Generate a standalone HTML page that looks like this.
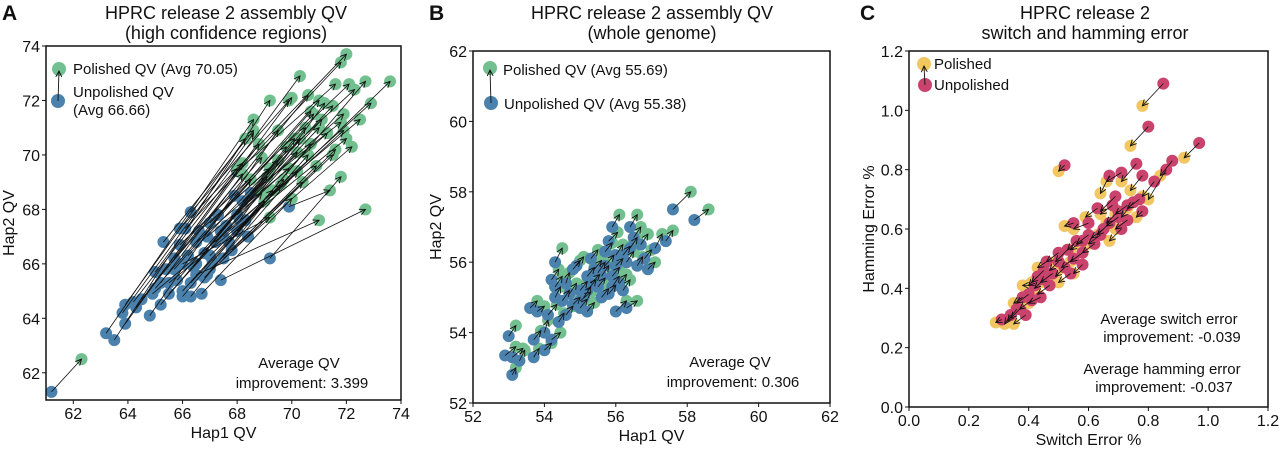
<!DOCTYPE html>
<html><head><meta charset="utf-8">
<style>
body{margin:0;background:#fff;width:1280px;height:445px;overflow:hidden}
svg{font-family:"Liberation Sans","DejaVu Sans",sans-serif}
</style></head>
<body>
<svg id="fig" width="1280" height="445" viewBox="0 0 1280 445">
<defs>
<marker id="ah" markerWidth="8" markerHeight="8" refX="7" refY="4" orient="auto" markerUnits="userSpaceOnUse">
<path d="M1,1 L7,4 L1,7" fill="none" stroke="#111" stroke-width="0.9"/></marker>
</defs>
</svg>
<script>
// Panel A data
const aUnpX=[61.2,63.2,63.5,63.9,63.8,63.9,64.3,64.5,64.8,65.2,65.0,65.3,66.3,66.1,65.9,65.9,67.4,69.2,69.9,68.0,66.8,67.5,66.5,66.0,65.5,64.9,67.0,67.5,68.0,66.5,67.0,65.7,66.4,66.8,67.2,67.6,68.0,66.2,66.9,67.3,68.2,66.6,67.8,65.8,66.3,67.0,68.4,65.5,66.7,67.9,68.5,65.0,65.4,66.0,66.5,67.1,67.4,68.1,66.0,65.2,64.2,65.7,66.9,67.7,68.3,66.3];
const aUnpY=[61.3,63.45,63.2,64.5,64.2,63.8,64.4,64.7,64.1,64.5,65.7,66.8,67.9,67.3,67.3,66.7,65.4,66.2,68.1,69.4,65.5,66.2,65.6,66.0,65.3,64.9,66.3,67.0,67.2,66.8,67.5,65.8,65.9,66.4,66.8,67.4,67.8,66.3,67.0,67.8,68.3,67.2,66.5,65.4,65.3,65.8,67.0,64.9,64.9,68.5,68.6,65.1,65.8,65.0,66.0,66.1,67.2,67.6,64.8,65.3,64.6,66.2,65.6,66.8,67.6,64.8];
const aPolX=[62.3,68.6,69.2,68.3,68.6,68.2,70.0,70.6,69.5,70.3,70.3,68.6,69.9,71.8,72.0,72.1,72.7,71.8,71.4,71.6,71.5,72.2,71.0,69.2,72.0,72.5,73.6,72.9,72.7,71.9,72.3,70.7,69.8,70.5,70.2,71.1,71.3,69.5,69.9,70.8,71.5,69.2,70.9,69.1,69.6,70.4,71.6,68.9,70.0,71.0,71.8,68.5,68.9,69.3,70.1,70.6,71.0,71.2,69.0,68.2,68.0,68.8,70.2,70.7,71.9,69.7];
const aPolY=[62.5,71.3,72.0,70.6,70.8,69.7,72.1,72.2,70.9,70.6,72.9,70.9,72.0,73.4,73.7,72.6,68.0,69.2,68.7,72.6,70.0,70.3,67.6,67.7,70.6,71.3,72.7,71.9,72.7,71.5,72.4,71.6,70.3,71.0,70.1,71.3,70.8,69.8,69.5,71.5,71.8,69.5,69.6,69.2,68.9,69.0,70.2,68.6,68.4,72.0,71.2,69.1,69.9,68.7,70.6,70.0,71.0,71.9,68.3,69.3,69.5,70.4,69.4,70.4,70.9,69.1];
const aTicks=[62,64,66,68,70,72,74];
// Panel B data
const bUnpX=[52.9,53.1,53.0,53.1,53.3,53.7,53.7,54.0,54.0,54.2,53.6,53.8,54.1,54.3,54.4,54.3,54.6,54.6,54.8,55.0,55.2,55.0,55.2,55.4,55.5,55.6,55.8,55.9,56.0,56.1,55.7,55.8,55.9,56.2,56.4,56.5,56.6,56.8,56.9,57.1,57.4,57.6,58.2,54.3,54.8,56.0,56.3,55.3,56.2,54.9,55.1,55.3,55.6,55.7,56.0,54.7,55.0,55.5,56.3,56.7,54.5,55.9,56.4,55.2,54.2];
const bUnpY=[53.35,53.3,53.9,52.8,53.2,53.3,53.8,53.5,54.0,53.8,54.7,54.6,54.5,55.0,54.3,55.3,55.4,54.5,54.8,54.7,54.6,55.2,55.6,55.8,55.3,55.0,55.1,55.6,55.9,55.4,56.3,56.6,57.0,56.2,57.0,56.7,55.9,56.1,55.8,56.4,56.6,57.5,57.2,56.0,55.8,54.6,54.7,56.1,55.2,55.9,55.0,55.4,55.6,55.9,56.2,55.1,54.9,55.7,56.0,56.5,54.9,55.3,56.4,55.2,55.5];
const bPolX=[53.2,53.4,53.2,53.2,53.45,53.85,53.9,54.2,54.1,54.45,53.8,54.0,54.35,54.45,54.55,54.5,54.7,54.8,55.0,55.2,55.4,55.2,55.4,55.6,55.7,55.8,56.0,56.1,56.2,56.3,55.9,56.05,56.1,56.4,56.6,56.7,56.75,57.0,57.1,57.3,57.6,58.1,58.6,54.5,55.0,56.3,56.6,55.5,56.4,55.1,55.3,55.55,55.8,55.95,56.2,54.9,55.3,55.7,56.5,56.9,54.7,56.1,56.6,55.45,54.4];
const bPolY=[53.6,53.55,54.2,53.0,53.5,53.55,54.05,53.7,54.35,54.0,54.9,54.75,54.8,55.3,54.55,55.6,55.7,54.75,55.0,54.95,54.85,55.45,55.85,56.05,55.55,55.25,55.35,55.85,56.1,55.65,56.55,56.85,57.35,56.45,57.35,57.0,56.15,56.35,56.0,56.8,56.9,58.0,57.5,56.4,56.05,54.9,54.9,56.35,55.5,56.15,55.3,55.65,55.9,56.2,56.5,55.4,55.15,56.0,56.3,56.8,55.2,55.6,56.7,55.5,55.8];
const bTicks=[52,54,56,58,60,62];
// Panel C data
const cUnpX=[0.85,0.80,0.97,0.52,0.88,0.76,0.71,0.67,0.86,0.78,0.82,0.63,0.69,0.73,0.75,0.70,0.67,0.71,0.60,0.55,0.56,0.58,0.53,0.50,0.48,0.46,0.45,0.42,0.40,0.38,0.36,0.39,0.34,0.31,0.44,0.52,0.58,0.62,0.64,0.78,0.45,0.50,0.55,0.60,0.65,0.70,0.73,0.47,0.41,0.37,0.58,0.77,0.43,0.68,0.54];
const cUnpY=[1.09,0.945,0.89,0.815,0.83,0.82,0.79,0.78,0.80,0.78,0.76,0.67,0.71,0.68,0.69,0.64,0.62,0.60,0.62,0.62,0.56,0.52,0.53,0.49,0.45,0.49,0.43,0.41,0.38,0.37,0.33,0.31,0.31,0.295,0.37,0.47,0.48,0.55,0.58,0.66,0.46,0.52,0.50,0.58,0.60,0.66,0.63,0.41,0.36,0.33,0.56,0.70,0.44,0.68,0.45];
const cPolX=[0.78,0.74,0.92,0.50,0.84,0.71,0.66,0.64,0.80,0.74,0.78,0.59,0.64,0.69,0.71,0.66,0.63,0.67,0.55,0.52,0.53,0.54,0.49,0.47,0.44,0.43,0.42,0.38,0.36,0.35,0.33,0.35,0.32,0.29,0.40,0.49,0.55,0.58,0.60,0.76,0.41,0.46,0.51,0.56,0.61,0.66,0.69,0.43,0.37,0.34,0.54,0.73,0.40,0.64,0.50];
const cPolY=[1.015,0.88,0.84,0.795,0.78,0.76,0.76,0.72,0.70,0.73,0.71,0.64,0.66,0.65,0.64,0.61,0.58,0.56,0.60,0.61,0.53,0.49,0.49,0.46,0.42,0.47,0.40,0.41,0.35,0.35,0.29,0.28,0.28,0.285,0.35,0.44,0.45,0.52,0.55,0.64,0.42,0.49,0.47,0.55,0.57,0.62,0.60,0.38,0.33,0.30,0.53,0.67,0.41,0.65,0.42];
const cTicks=[0.0,0.2,0.4,0.6,0.8,1.0,1.2];

const NS='http://www.w3.org/2000/svg';
const svg=document.getElementById('fig');
function mk(tag,attrs,parent,text){const e=document.createElementNS(NS,tag);for(const k in attrs)e.setAttribute(k,attrs[k]);if(text!==undefined)e.textContent=text;(parent||svg).appendChild(e);return e;}

function panel(o){
  const g=mk('g',{});
  
  
  const sx=v=>o.x0+(v-o.min)/(o.max-o.min)*(o.x1-o.x0);
  const sy=v=>o.y1-(v-o.min)/(o.max-o.min)*(o.y1-o.y0);
  const pts=mk('g',{},g);
  
  
  for(let i=0;i<o.ux.length;i++){const c=mk('circle',{cx:sx(o.ux[i]),cy:sy(o.uy[i]),r:6,fill:o.ucol},pts);
    
    }
  const pp=mk('g',{},g);
  
  
  for(let i=0;i<o.px.length;i++){const c=mk('circle',{cx:sx(o.px[i]),cy:sy(o.py[i]),r:6,fill:o.pcol},pp);
    
    }
  if(o.polFirst){g.insertBefore(pp,pts);}
  const ar=mk('g',{},g);
  
  
  for(let i=0;i<o.ux.length;i++){const l=mk('line',{x1:sx(o.ux[i]),y1:sy(o.uy[i]),x2:sx(o.px[i]),y2:sy(o.py[i]),stroke:'#111','stroke-width':0.8,'marker-end':'url(#ah)'},ar);
    
    }
  const fr=mk('rect',{x:o.x0,y:o.y0,width:o.x1-o.x0,height:o.y1-o.y0,fill:'none',stroke:'#111','stroke-width':1.5},g);
  
  
  for(const t of o.ticks){
    const lab=o.fmt(t);
    mk('line',{x1:sx(t),x2:sx(t),y1:o.y1,y2:o.y1+4,stroke:'#111','stroke-width':1},g);
    const tx=mk('text',{x:sx(t),y:o.y1+19,'font-size':16,'text-anchor':'middle',fill:'#111'},g,lab);
    
    
    mk('line',{x1:o.x0-4,x2:o.x0,y1:sy(t),y2:sy(t),stroke:'#111','stroke-width':1},g);
    const ty=mk('text',{x:o.x0-6,y:sy(t)+6,'font-size':16,'text-anchor':'end',fill:'#111'},g,lab);
    
    
  }
  const xt=mk('text',{x:(o.x0+o.x1)/2,y:o.y1+38,'font-size':16,'text-anchor':'middle',fill:'#111'},g,o.xlab);
  
  
  const yc=(o.y0+o.y1)/2, yx=o.ytx;
  const yt=mk('text',{x:yx,y:yc,'font-size':16,'text-anchor':'middle',fill:'#111',transform:`rotate(-90 ${yx} ${yc})`},g,o.ylab);
  
  
  o.title.forEach((s,i)=>{const t=mk('text',{x:o.tcx,y:19+i*20,'font-size':18,'text-anchor':'middle',fill:'#111'},g,s);
    
    });
  const L=mk('text',{x:o.letterX,y:20,'font-size':21,'font-weight':'bold',fill:'#111'},g,o.letter);
  
  
  const lg=mk('g',{},g);
  
  
  mk('circle',{cx:o.leg.px,cy:o.leg.py,r:7,fill:o.pcol},lg);
  mk('circle',{cx:o.leg.ux,cy:o.leg.uy,r:7,fill:o.ucol},lg);
  mk('line',{x1:o.leg.ux,y1:o.leg.uy,x2:o.leg.px,y2:o.leg.py+2,stroke:'#111','stroke-width':0.9,'marker-end':'url(#ah)'},lg);
  o.leg.texts.forEach(t=>{const e=mk('text',{x:t[0],y:t[1],'font-size':15,fill:'#111'},lg,t[2]);
    
    });
  const an=mk('g',{},g);
  
  
  o.ann.forEach(t=>mk('text',{x:t[0],y:t[1],'font-size':15,'text-anchor':'middle',fill:'#111'},an,t[2]));
}

panel({name:'panel-a-high-confidence-qv',x0:46,x1:401,y0:46,y1:400,min:61,max:74,ticks:aTicks,fmt:v=>String(v),
  ux:aUnpX,uy:aUnpY,px:aPolX,py:aPolY,ucol:'#4a82ad',pcol:'#72c08f',
  xlab:'Hap1 QV',ylab:'Hap2 QV',ytx:14,title:['HPRC release 2 assembly QV','(high confidence regions)'],tcx:226,letter:'A',letterX:2,
  leg:{px:59,py:69,ux:58,uy:101,texts:[[73,74,'Polished QV (Avg 70.05)'],[73,97,'Unpolished QV'],[73,115,'(Avg 66.66)']]},
  ann:[[299,368,'Average QV'],[302,388,'improvement: 3.399']]});
panel({name:'panel-b-whole-genome-qv',x0:473,x1:830,y0:51,y1:403,min:52,max:62,ticks:bTicks,fmt:v=>String(v),
  ux:bUnpX,uy:bUnpY,px:bPolX,py:bPolY,ucol:'#4a82ad',pcol:'#72c08f',polFirst:true,
  xlab:'Hap1 QV',ylab:'Hap2 QV',ytx:441,title:['HPRC release 2 assembly QV','(whole genome)'],tcx:652,letter:'B',letterX:429,
  leg:{px:490,py:68,ux:491,uy:103,texts:[[503,75,'Polished QV (Avg 55.69)'],[504,109,'Unpolished QV (Avg 55.38)']]},
  ann:[[730,367,'Average QV'],[733,387,'improvement: 0.306']]});
panel({name:'panel-c-switch-hamming-error',x0:909,x1:1268,y0:51,y1:407,min:0,max:1.2,ticks:cTicks,fmt:v=>v.toFixed(1),
  ux:cUnpX,uy:cUnpY,px:cPolX,py:cPolY,ucol:'#c9436c',pcol:'#f2c661',polFirst:true,
  xlab:'Switch Error %',ylab:'Hamming Error %',ytx:874,title:['HPRC release 2','switch and hamming error'],tcx:1085,letter:'C',letterX:860,
  leg:{px:924,py:64,ux:925,uy:85,texts:[[934,69,'Polished'],[934,90,'Unpolished']]},
  ann:[[1169,324,'Average switch error'],[1172,342,'improvement: -0.039'],[1162,374,'Average hamming error'],[1164,392,'improvement: -0.037']]});
</script>
</body></html>
